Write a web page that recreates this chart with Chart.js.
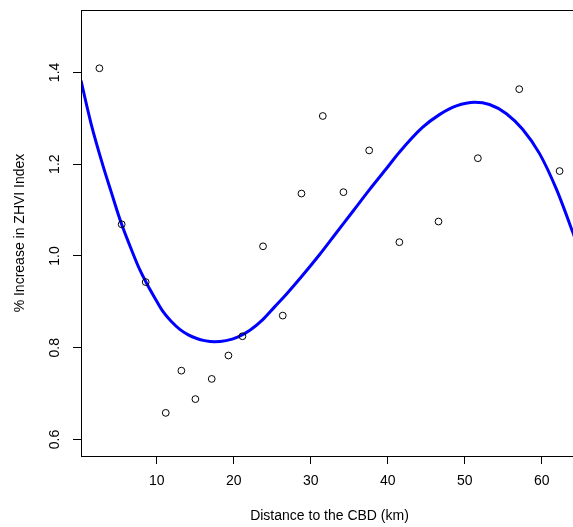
<!DOCTYPE html>
<html>
<head>
<meta charset="utf-8">
<script src="https://cdn.jsdelivr.net/npm/chart.js@4/dist/chart.umd.min.js"></script>
<style>
  html, body { margin: 0; padding: 0; background: #fff; overflow: hidden; }
  #wrap { width: 590px; height: 527px; }
</style>
</head>
<body>
<div id="wrap"><canvas id="c" width="590" height="527"></canvas></div>
<script>
// Observed suburbs: distance to the CBD (km) and % increase in ZHVI index
const distance = [2.56, 5.45, 8.57, 11.17, 13.2, 15.02, 17.14, 19.31, 21.13, 23.8,
                  26.36, 28.79, 31.56, 34.24, 37.58, 41.5, 46.58, 51.69, 57.06, 62.3];
const increase = [1.409, 1.069, 0.943, 0.658, 0.750, 0.688, 0.732, 0.783, 0.825, 1.021,
                  0.870, 1.136, 1.305, 1.139, 1.230, 1.030, 1.075, 1.213, 1.3635, 1.185];

// Fitted trend line, sampled along the distance axis
const fitDistance = [0.17, 1.5, 3.0, 4.1, 5.4, 6.9, 7.8, 8.7, 9.7, 10.8, 11.9, 13.0, 14.1,
                     15.2, 16.2, 17.5, 19.0, 20.5, 22.1, 23.7, 25.3, 26.8, 29.0, 31.1,
                     33.3, 35.5, 37.6, 39.8, 41.5, 44.5, 46.7, 48.9, 51.3, 53.2, 55.4,
                     57.5, 59.7, 61.9, 64.0, 64.7];
const fitIncrease = [1.382, 1.287, 1.198, 1.139, 1.071, 1.006, 0.970, 0.940, 0.910, 0.879,
                     0.857, 0.840, 0.828, 0.820, 0.8155, 0.813, 0.8155, 0.823, 0.838, 0.860,
                     0.889, 0.916, 0.959, 1.002, 1.050, 1.098, 1.144, 1.190, 1.226, 1.280,
                     1.308, 1.327, 1.335, 1.330, 1.310, 1.276, 1.223, 1.145, 1.052, 1.019];

// Axis ranges and tick labels
const xRange = [0.17, 64.69];
const yRange = [0.564, 1.536];
const xTicks = [10, 20, 30, 40, 50, 60];
const yTicks = ['0.6', '0.8', '1.0', '1.2', '1.4'];

const FONT = { family: '"Liberation Sans", Arial, Helvetica, sans-serif', size: 14 };

// Closed frame around the plotting region
const frame = {
  id: 'frame',
  afterDraw(chart) {
    const { ctx, chartArea: a } = chart;
    ctx.save();
    ctx.strokeStyle = '#000';
    ctx.lineWidth = 1;
    ctx.strokeRect(Math.round(a.left) + 0.5, Math.round(a.top) + 0.5,
                   Math.round(a.right - a.left), Math.round(a.bottom - a.top));
    ctx.restore();
  }
};

function noEdgePadding(s) {
  s.paddingTop = 0; s.paddingBottom = 0; s.paddingLeft = 0; s.paddingRight = 0;
}

new Chart(document.getElementById('c'), {
  type: 'scatter',
  data: {
    datasets: [
      {
        label: 'Observed',
        data: distance.map((d, i) => ({ x: d, y: increase[i] })),
        pointStyle: 'circle',
        pointRadius: 3.4,
        pointBorderWidth: 1,
        pointBorderColor: '#000',
        pointBackgroundColor: 'rgba(0,0,0,0)',
        showLine: false
      },
      {
        label: 'Fit',
        data: fitDistance.map((d, i) => ({ x: d, y: fitIncrease[i] })),
        showLine: true,
        borderColor: '#0000ff',
        borderWidth: 3,
        pointRadius: 0,
        cubicInterpolationMode: 'monotone',
        fill: false
      }
    ]
  },
  options: {
    responsive: false,
    animation: false,
    devicePixelRatio: 1,
    events: [],
    layout: { autoPadding: false, padding: { left: 0, top: 10, right: 12, bottom: 0 } },
    plugins: { legend: { display: false }, tooltip: { enabled: false } },
    scales: {
      x: {
        type: 'linear',
        min: xRange[0],
        max: xRange[1],
        afterBuildTicks(s) { s.ticks = xTicks.map(v => ({ value: v })); },
        afterFit(s) { s.height = 71; noEdgePadding(s); },
        ticks: { font: FONT, color: '#000', padding: 9, maxRotation: 0,
                 callback: v => String(v) },
        grid: { drawOnChartArea: false, drawTicks: true, tickLength: 8, color: '#000', lineWidth: 1 },
        border: { display: false },
        title: { display: true, text: 'Distance to the CBD (km)', font: FONT, color: '#000',
                 padding: { top: 0, bottom: 2 } }
      },
      y: {
        type: 'linear',
        min: yRange[0],
        max: yRange[1],
        afterBuildTicks(s) { s.ticks = yTicks.map(t => ({ value: parseFloat(t) })); },
        afterFit(s) { s.width = 81; noEdgePadding(s); },
        ticks: { font: FONT, color: '#000', padding: 8, minRotation: 90, maxRotation: 90,
                 crossAlign: 'center',
                 callback: v => yTicks.find(t => Math.abs(parseFloat(t) - v) < 1e-9) },
        grid: { drawOnChartArea: false, drawTicks: true, tickLength: 8, color: '#000', lineWidth: 1 },
        border: { display: false },
        title: { display: true, text: '% Increase in ZHVI Index', font: FONT, color: '#000',
                 padding: { top: 12, bottom: 0 } }
      }
    }
  },
  plugins: [frame]
});
</script>
</body>
</html>
